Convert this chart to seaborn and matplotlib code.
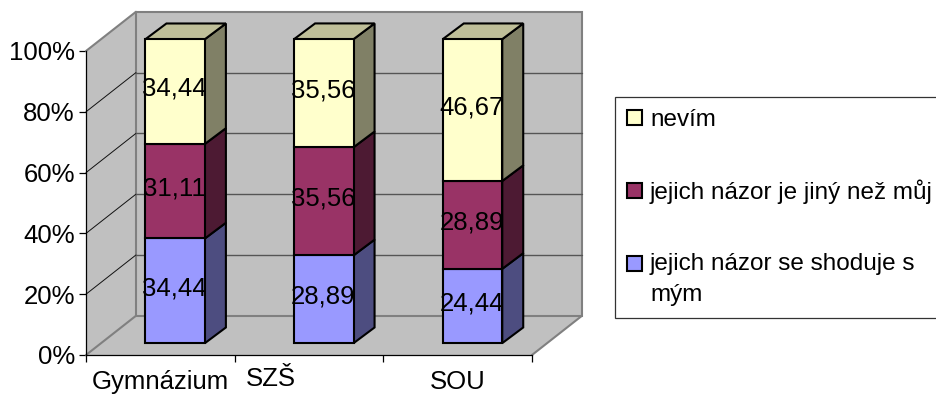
import matplotlib
matplotlib.use("Agg")
import matplotlib.pyplot as plt
import numpy as np
import seaborn as sns
from matplotlib.colors import to_rgb
from matplotlib.legend_handler import HandlerPatch
from matplotlib.patches import Patch, Polygon, Rectangle
from matplotlib.ticker import PercentFormatter
from matplotlib.transforms import ScaledTranslation

categories = ["Gymnázium", "SZŠ", "SOU"]
shoduje = [34.44, 28.89, 24.44]
jiny = [31.11, 35.56, 28.89]
nevim = [34.44, 35.56, 46.67]
series_labels = ["jejich názor se shoduje s\nmým", "jejich názor je jiný než můj", "nevím"]
series_values = [shoduje, jiny, nevim]
series_colors = ["#9999FF", "#993366", "#FFFFCC"]
y_ticks = [0, 20, 40, 60, 80, 100]

sns.set_theme(style="white")
plt.rcParams["font.family"] = ["Liberation Sans", "DejaVu Sans"]

W, H = 936, 394
fig = plt.figure(figsize=(W / 100, H / 100), dpi=100, facecolor="white")
# The axes cover the front plane of the box; walls and bar depth are sheared from it.
ax = fig.add_axes([86 / W, (H - 355) / H, 446 / W, 304 / H])
ax.patch.set_visible(False)

WALL_DX, WALL_DY = 0.336, 12.9   # box depth, in category and percent units
BAR_DX, BAR_DY = 0.10, 3.9       # gap between the front plane and the bars
SIDE_DX, SIDE_DY = 0.141, 5.16   # depth of each bar
BAR_WIDTH = 0.40


def shade(color, factor):
    return tuple(c * factor for c in to_rgb(color))


def add_poly(points, **kw):
    kw.setdefault("clip_on", False)
    ax.add_patch(Polygon(points, closed=True, **kw))


x0, x1 = -0.5, 2.5
wall = "#C0C0C0"
add_poly([(x0, 0), (x0 + WALL_DX, WALL_DY), (x0 + WALL_DX, 100 + WALL_DY), (x0, 100)],
         fc=wall, ec="none", zorder=0.5)
add_poly([(x0, 0), (x1, 0), (x1 + WALL_DX, WALL_DY), (x0 + WALL_DX, WALL_DY)],
         fc=wall, ec="none", zorder=0.5)
add_poly([(x0 + WALL_DX, WALL_DY), (x1 + WALL_DX, WALL_DY),
          (x1 + WALL_DX, 100 + WALL_DY), (x0 + WALL_DX, 100 + WALL_DY)],
         fc=wall, ec="#808080", lw=1.5, zorder=0.6)

for t in y_ticks:
    edge = t in (0, 100)
    ax.plot([x0, x0 + WALL_DX], [t, t + WALL_DY], color="#808080" if edge else "#111111",
            lw=1.5 if edge else 0.7, clip_on=False, zorder=0.8)
    if not edge:
        ax.plot([x0 + WALL_DX, x1 + WALL_DX], [t + WALL_DY] * 2, color="#555555",
                lw=1.0, clip_on=False, zorder=0.8)
ax.plot([x1, x1 + WALL_DX], [0, WALL_DY], color="#808080", lw=1.5, clip_on=False, zorder=0.8)

# Stacked front faces, pushed back from the front plane by a pixel offset.
offset = ScaledTranslation(BAR_DX * 446 / 3 / 100, BAR_DY * 3.04 / 100, fig.dpi_scale_trans)
bottoms = np.zeros(len(categories))
for values, color in zip(series_values, series_colors):
    sns.barplot(x=categories, y=values, bottom=bottoms, color=color, saturation=1,
                width=BAR_WIDTH, edgecolor="black", linewidth=1.5, ax=ax, zorder=3)
    bar_patches = ax.containers[-1]
    for bar in bar_patches:
        bar.set_transform(ax.transData + offset)
        bar.set_clip_on(False)
    for i, value in enumerate(values):
        left = i - BAR_WIDTH / 2 + BAR_DX
        right = i + BAR_WIDTH / 2 + BAR_DX
        lo = bottoms[i] + BAR_DY
        hi = lo + value
        add_poly([(right, lo), (right + SIDE_DX, lo + SIDE_DY),
                  (right + SIDE_DX, hi + SIDE_DY), (right, hi)],
                 fc=shade(color, 0.5), ec="black", lw=1.5, zorder=2)
        if color == series_colors[-1]:
            add_poly([(left, hi), (left + SIDE_DX, hi + SIDE_DY),
                      (right + SIDE_DX, hi + SIDE_DY), (right, hi)],
                     fc=shade(color, 0.75), ec="black", lw=1.5, zorder=2)
        ax.text(i + BAR_DX - 0.005, bottoms[i] + value / 2 + BAR_DY + 0.9,
                f"{value:.2f}".replace(".", ","),
                ha="center", va="center", fontsize=18.5, color="black", zorder=5)
    bottoms = bottoms + np.array(values)

ax.set_xlim(x0, x1)
ax.set_ylim(0, 100)
ax.set_xlabel("")
ax.set_ylabel("")

for side in ("top", "right"):
    ax.spines[side].set_visible(False)
for side in ("left", "bottom"):
    ax.spines[side].set_color("black")
    ax.spines[side].set_linewidth(0.9)
    ax.spines[side].set_zorder(1)

ax.set_yticks(y_ticks)
ax.yaxis.set_major_formatter(PercentFormatter(100, decimals=0))
ax.tick_params(axis="y", which="major", left=True, length=5, width=0.9, color="black",
               labelsize=18.5, pad=3, labelcolor="black")

# Ticks mark the category boundaries; the names sit between them.
ax.set_xticks([-0.5, 0.5, 1.5, 2.5], labels=[""] * 4)
ax.set_xticks([0, 1, 2], labels=categories, minor=True)
ax.tick_params(axis="x", which="major", bottom=True, length=5, width=0.9, color="black")
ax.tick_params(axis="x", which="minor", bottom=False, length=0, labelsize=18.5, pad=10.5,
               labelcolor="black")
szs = ax.get_xticklabels(minor=True)[1]
szs.set_transform(szs.get_transform() + ScaledTranslation(-38 / 100, 3 / 100, fig.dpi_scale_trans))


def raised_key(legend, orig_handle, xdescent, ydescent, width, height, fontsize):
    # Keeps the key level with the first line of a wrapped label.
    return Rectangle((-xdescent, -ydescent + 11.5), width, height)


handles = [Patch(fc=c, ec="black", lw=1.5, label=l)
           for c, l in zip(series_colors[::-1], series_labels[::-1])]
legend = fig.legend(handles=handles, loc="upper left", bbox_to_anchor=(615 / W, (H - 97) / H),
                    fontsize=17.5, frameon=True, fancybox=False, framealpha=1,
                    edgecolor="#333333", facecolor="white", borderaxespad=0, borderpad=0.5,
                    labelspacing=2.0, handlelength=0.6, handleheight=0.58, handletextpad=0.34,
                    labelcolor="black",
                    handler_map={handles[2]: HandlerPatch(patch_func=raised_key)})
legend.get_frame().set_linewidth(0.9)
legend.get_texts()[2].set_linespacing(1.55)

fig.savefig("out.png", dpi=100, facecolor="white")
